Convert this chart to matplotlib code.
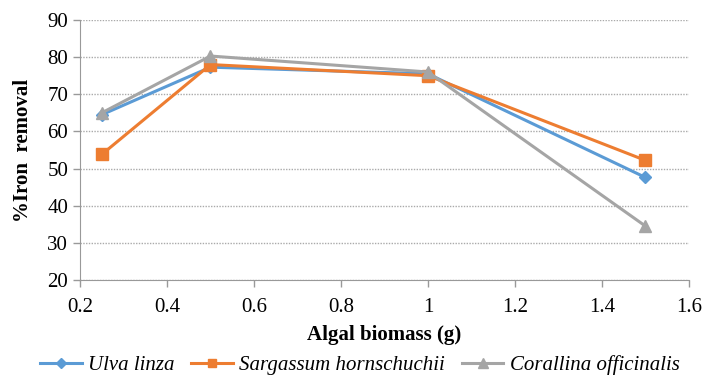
import matplotlib
matplotlib.use("Agg")
import matplotlib.pyplot as plt

biomass = [0.25, 0.5, 1.0, 1.5]
ulva = [64.5, 77.3, 75.5, 47.6]
sargassum = [53.8, 78.0, 75.0, 52.2]
corallina = [65.0, 80.3, 76.0, 34.5]
series_names = ["Ulva linza", "Sargassum hornschuchii", "Corallina officinalis"]
x_ticks = [0.2, 0.4, 0.6, 0.8, 1.0, 1.2, 1.4, 1.6]
x_tick_labels = ["0.2", "0.4", "0.6", "0.8", "1", "1.2", "1.4", "1.6"]
y_ticks = [20, 30, 40, 50, 60, 70, 80, 90]

plt.rcParams['font.family'] = ['Liberation Serif', 'DejaVu Serif']

fig = plt.figure(figsize=(7.06, 3.77), dpi=100)
ax = fig.add_axes([80/706, 1-280/377, (689-80)/706, (280-20)/377])

colors = ["#5B9BD5", "#ED7D31", "#A5A5A5"]
markers = ["D", "s", "^"]
msizes = [6, 8, 9]
for vals, name, c, m, ms in zip([ulva, sargassum, corallina], series_names, colors, markers, msizes):
    ax.plot(biomass, vals, color=c, marker=m, markersize=ms, linewidth=2.2, label=name)

ax.set_xlim(0.2, 1.6)
ax.set_ylim(20, 90)
ax.set_xticks(x_ticks)
ax.set_xticklabels(x_tick_labels)
ax.set_yticks(y_ticks)
ax.tick_params(axis='both', labelsize=15, color="#999999", length=5, width=1)
ax.tick_params(axis='x', pad=8)
ax.grid(axis='y', linestyle=(0, (1, 1)), color="#AAAAAA", linewidth=1)
ax.set_axisbelow(True)
for s in ["top", "right"]:
    ax.spines[s].set_visible(False)
for s in ["left", "bottom"]:
    ax.spines[s].set_color("#999999")

ax.set_xlabel("Algal biomass (g)", fontsize=15, fontweight="bold", labelpad=6)
ax.set_ylabel("%Iron  removal", fontsize=15, fontweight="bold", labelpad=10)

leg = fig.legend(loc="center", bbox_to_anchor=(360/706, 1-365/377), ncol=3, frameon=False,
                 prop={"style": "italic", "size": 15}, handlelength=2.0, columnspacing=0.8,
                 handletextpad=0.3, borderaxespad=0, borderpad=0, markerscale=0.8)

fig.savefig("out.png", dpi=100)
